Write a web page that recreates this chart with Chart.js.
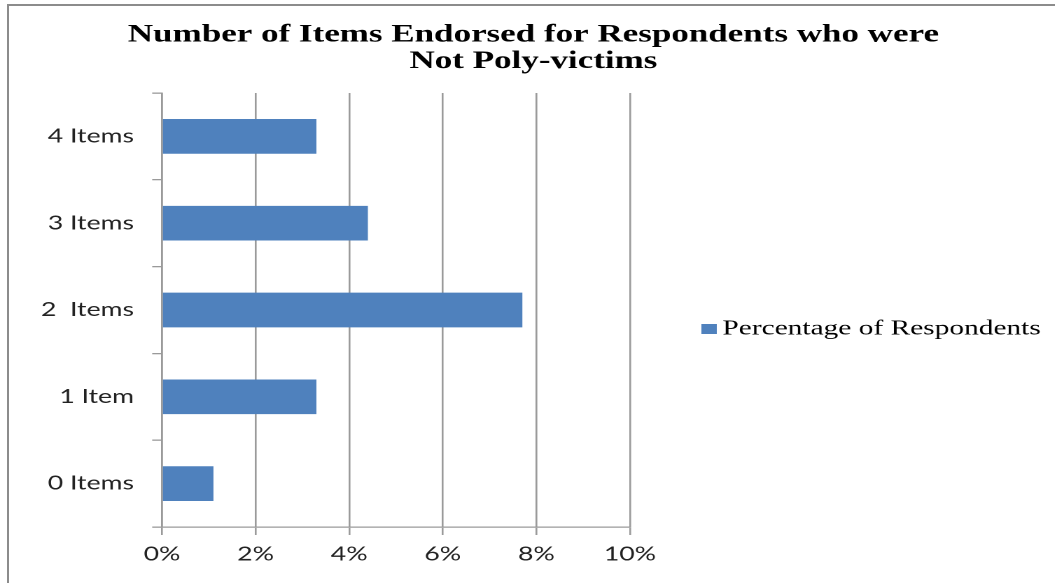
<!DOCTYPE html>
<html>
<head>
<meta charset="utf-8">
<title>Items Endorsed - Not Poly-victims</title>
<script src="https://cdn.jsdelivr.net/npm/chart.js"></script>
<style>
  html, body { margin: 0; padding: 0; background: #fff; overflow: hidden; }
  #frame {
    position: absolute; left: 7px; top: 4px; width: 1100px; height: 650px;
    border-left: 2px solid #8c8c8c; border-top: 2px solid #8c8c8c;
  }
  /* the chart is drawn narrow and widened, like the wide-set original */
  #wrap {
    position: absolute; left: 0; top: 0; width: 762px; height: 583px;
    transform: scaleX(1.4); transform-origin: 0 0;
  }
</style>
</head>
<body>
<div id="frame"></div>
<div id="wrap"><canvas id="chart" width="762" height="583"></canvas></div>
<script>
const categories = ['4 Items', '3 Items', '2  Items', '1 Item', '0 Items'];
const percentages = [3.3, 4.4, 7.7, 3.3, 1.1];
const seriesName = 'Percentage of Respondents';
const titleLines = ['Number of Items Endorsed for Respondents who were', 'Not Poly-victims'];
const xMax = 10;
const xStep = 2;

const gridGray = '#9a9a9a';
const barBlue = '#4f81bd';
const tickFont = { family: 'Lato', size: 19 };

// single legend entry, sitting to the right of the plot
const sideLegend = {
  id: 'sideLegend',
  afterDraw(chart) {
    const { ctx, chartArea } = chart;
    const ds = chart.data.datasets[0];
    const x = chartArea.right + 51;
    const y = (chartArea.top + chartArea.bottom) / 2 + 19;
    ctx.save();
    ctx.fillStyle = ds.backgroundColor;
    ctx.fillRect(x, y - 5, 11, 10);
    ctx.fillStyle = '#000';
    ctx.font = '21px "Liberation Serif"';
    ctx.textBaseline = 'middle';
    ctx.fillText(ds.label, x + 15, y);
    ctx.restore();
  }
};

new Chart(document.getElementById('chart'), {
  type: 'bar',
  data: {
    labels: categories,
    datasets: [{
      label: seriesName,
      data: percentages,
      backgroundColor: barBlue,
      borderWidth: 0,
      barPercentage: 0.4,
      categoryPercentage: 1
    }]
  },
  options: {
    indexAxis: 'y',
    responsive: false,
    animation: false,
    devicePixelRatio: 2,
    plugins: {
      title: {
        display: true,
        text: titleLines,
        color: '#000',
        font: { family: 'Liberation Serif', size: 25, weight: 'bold', lineHeight: 1.06 },
        padding: { top: 22, bottom: 18 }
      },
      legend: { display: false },
      tooltip: { enabled: false }
    },
    scales: {
      x: {
        min: 0,
        max: xMax,
        ticks: {
          stepSize: xStep,
          color: '#222',
          font: tickFont,
          padding: 8,
          callback: v => v + '%'
        },
        grid: { color: gridGray, lineWidth: 1.3, tickLength: 8 },
        border: { color: gridGray, width: 1.3 },
        afterFit: s => { s.height = 56; }
      },
      y: {
        ticks: { color: '#222', font: tickFont, padding: 13 },
        grid: { drawOnChartArea: false, color: gridGray, lineWidth: 1.3, tickLength: 7, offset: true },
        border: { color: gridGray, width: 1.3 },
        afterFit: s => { s.width = 115.7; }
      },
      // empty right-hand axis that keeps room for the legend
      yRoom: {
        type: 'linear',
        axis: 'y',
        position: 'right',
        grid: { display: false, drawTicks: false },
        border: { display: false },
        ticks: { display: false },
        afterFit: s => { s.width = 312; }
      }
    }
  },
  plugins: [sideLegend]
});
</script>
</body>
</html>
